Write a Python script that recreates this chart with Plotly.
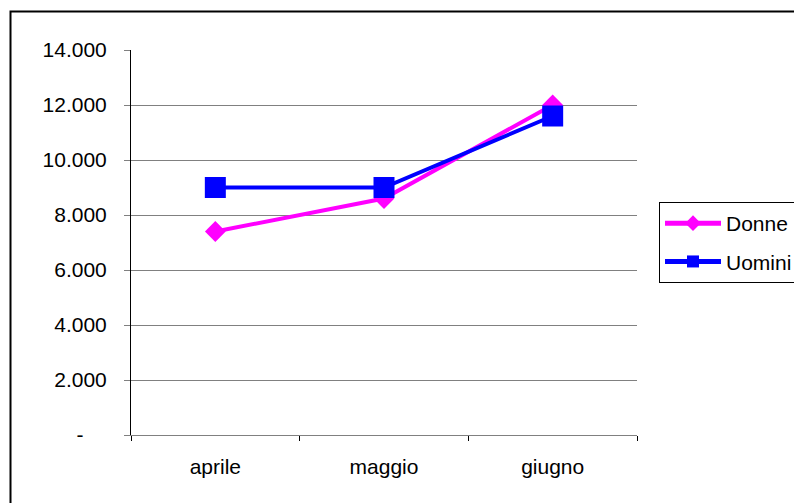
import plotly.graph_objects as go

# Monthly counts by gender
mesi = ["aprile", "maggio", "giugno"]
donne = [7400, 8600, 12000]
uomini = [9000, 9000, 11600]

y_ticks = [0, 2000, 4000, 6000, 8000, 10000, 12000, 14000]
y_ticktext = ["-\u00a0\u00a0\u00a0\u00a0", "2.000", "4.000", "6.000", "8.000",
              "10.000", "12.000", "14.000"]

W, H = 794, 503
L, R, T, B = 131, 637, 50, 435  # plot area edges in pixels

font = dict(family="Liberation Sans, Arial, sans-serif", size=21, color="black")

fig = go.Figure()
fig.add_trace(go.Scatter(
    x=mesi, y=donne, name="Donne", mode="lines+markers",
    line=dict(color="#FF00FF", width=4),
    marker=dict(symbol="diamond", size=16, color="#FF00FF"),
    legendgroup="d",
))
fig.add_trace(go.Scatter(
    x=mesi, y=uomini, name="Uomini", mode="lines+markers",
    line=dict(color="#0000FF", width=4),
    marker=dict(symbol="square", size=21, color="#0000FF"),
    legendgroup="u",
))

fig.update_layout(
    width=W, height=H,
    margin=dict(l=L, r=W - R, t=T, b=H - B, pad=0, autoexpand=False),
    paper_bgcolor="white", plot_bgcolor="white",
    font=font,
    showlegend=True,
    legend=dict(
        x=(659 - L) / (R - L), y=(B - 202) / (B - T),
        xanchor="left", yanchor="top",
        bordercolor="black", borderwidth=1, bgcolor="white",
        font=font, itemwidth=56, tracegroupgap=8,
        traceorder="grouped", itemsizing="constant",
    ),
    xaxis=dict(
        type="category", range=[-0.5, 2.5],
        showline=True, linecolor="#808080", linewidth=1,
        ticks="outside", tickson="boundaries", ticklen=5, tickcolor="black",
        ticklabelstandoff=13, showgrid=False, zeroline=False,
        fixedrange=True,
    ),
    yaxis=dict(
        range=[0, 14000], tickvals=y_ticks, ticktext=y_ticktext,
        showline=True, linecolor="black", linewidth=1,
        ticks="outside", ticklen=6, tickcolor="#808080",
        ticklabelstandoff=13,
        showgrid=True, gridcolor="#808080", gridwidth=1, zeroline=False,
        fixedrange=True,
    ),
    shapes=[dict(
        type="rect", xref="paper", yref="paper",
        x0=(10.5 - L) / (R - L), x1=1.6,
        y0=-0.5, y1=(B - 11.5) / (B - T),
        line=dict(color="black", width=2), fillcolor="rgba(0,0,0,0)",
        layer="below",
    )],
)

fig.write_html("out.html")
